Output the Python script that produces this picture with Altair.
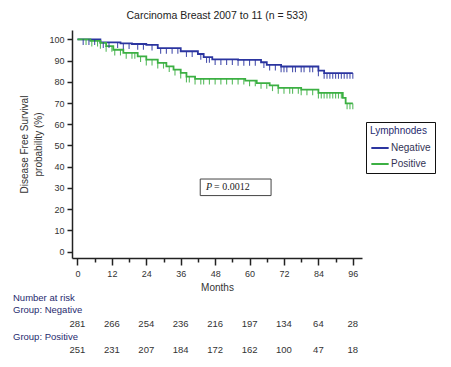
import altair as alt
import pandas as pd

# ---- data ----
groups = ["Negative", "Positive"]

neg_time = [0, 8, 15, 19, 24, 28, 36, 42, 44, 47, 56, 64, 66, 71, 84, 86, 96]
neg_surv = [100, 98.6, 98.1, 97.8, 97.4, 95.9, 94.4, 93.1, 91.6, 90.6, 90.3, 89.2, 88.0, 87.2, 85.3, 84.1, 84.1]

pos_time = [0, 4.5, 8, 10, 12.5, 16, 21, 24, 28, 31, 33.5, 36, 38, 41, 58.5, 62.5, 67, 70, 78, 84, 92.5, 93.5, 96]
pos_surv = [100, 99.3, 98.3, 96.8, 95.1, 93.6, 92.0, 90.4, 88.9, 87.3, 85.7, 84.2, 82.4, 81.4, 80.6, 79.4, 78.3, 77.1, 76.3, 74.8, 72.4, 69.8, 69.8]

neg_censor = [2, 4, 6, 9, 11, 14, 16, 18, 21, 23, 26, 29, 31, 33, 35, 38, 40, 43, 45, 46,
              48, 50, 52, 54, 56, 58, 60, 62, 65, 67, 69, 71, 72, 73, 75, 76, 78, 79, 81,
              82, 84, 86, 87, 88, 89, 90, 91, 92, 93, 94, 95, 96]
pos_censor = [3, 5, 7, 8, 10, 12, 13, 15, 17, 19, 20, 22, 24, 26, 28, 30, 32, 34, 36, 38,
              39, 41, 43, 44, 46, 48, 50, 52, 54, 56, 58, 60, 62, 64, 66, 68, 70, 72, 74,
              75, 77, 78, 80, 82, 84, 85, 86, 87, 88, 89, 90, 91, 92, 94, 95, 96]

risk_months = [0, 12, 24, 36, 48, 60, 72, 84, 96]
risk_neg = [281, 266, 254, 236, 216, 197, 134, 64, 28]
risk_pos = [251, 231, 207, 184, 172, 162, 100, 47, 18]

p_text = "= 0.0012"
p_box = {"x": 42.8, "x2": 67.5, "y": 26.4, "y2": 34.2}
p_pos = {"xp": 45.9, "xt": 47.6, "y": 30.4}

colors = ["#2b35a0", "#3cb043"]
FONT = "Liberation Sans"
NAVY = "#1f2a6e"

# ---- tables ----
def step_value(times, survs, t):
    v = survs[0]
    for tt, ss in zip(times, survs):
        if tt <= t:
            v = ss
    return v

curves = pd.DataFrame(
    [{"Months": t, "Surv": s, "Group": "Negative"} for t, s in zip(neg_time, neg_surv)]
    + [{"Months": t, "Surv": s, "Group": "Positive"} for t, s in zip(pos_time, pos_surv)]
)
censors = pd.DataFrame(
    [{"Months": t, "Surv": step_value(neg_time, neg_surv, t), "Group": "Negative"} for t in neg_censor]
    + [{"Months": t, "Surv": step_value(pos_time, pos_surv, t), "Group": "Positive"} for t in pos_censor]
)
risk = pd.DataFrame({"Months": risk_months, "Neg": risk_neg, "Pos": risk_pos})

xscale = alt.Scale(domain=[-1.9, 99.2], nice=False, zero=False)
yscale = alt.Scale(domain=[-3, 104.4], nice=False, zero=False)
color = alt.Color("Group:N", scale=alt.Scale(domain=groups, range=colors),
                  legend=alt.Legend(title="Lymphnodes", orient="none", legendX=294, legendY=92,
                                    symbolType="stroke", symbolSize=300, symbolStrokeWidth=2,
                                    strokeColor="#111", padding=4, titleFontWeight="normal",
                                    titleFontSize=10, titleColor=NAVY, labelFontSize=10,
                                    labelColor="#333355", titleFont=FONT, labelFont=FONT,
                                    rowPadding=1, titlePadding=2, labelOffset=1))

xaxis = alt.Axis(values=list(range(0, 97, 6)), tickCount=40, title="Months",
                 labelExpr="datum.value % 12 === 0 ? datum.label : ''",
                 tickSize={"condition": {"test": "datum.value % 12 === 0", "value": 7}, "value": 4},
                 grid=False, labelFontSize=9, labelPadding=4, titleFontSize=10,
                 titleFontWeight="normal", titlePadding=4, labelOverlap=False)
yaxis = alt.Axis(values=list(range(0, 101, 10)), tickCount=40,
                 title=["Disease Free Survival", "probability (%)"],
                 grid=False, tickSize=5, labelFontSize=9, labelPadding=3, titleFontSize=10,
                 titleFontWeight="normal", titlePadding=5, titleLineHeight=14, labelOverlap=False)

lines = alt.Chart(curves).mark_line(interpolate="step-after", strokeWidth=1.8).encode(
    x=alt.X("Months:Q", scale=xscale, axis=xaxis),
    y=alt.Y("Surv:Q", scale=yscale, axis=yaxis),
    color=color,
)
ticks = alt.Chart(censors).mark_point(shape="M0,0V1", size=130, filled=False, strokeWidth=1.1,
                                      opacity=0.85).encode(
    x="Months:Q", y="Surv:Q", color=alt.Color("Group:N", legend=None)
)

box = alt.Chart(pd.DataFrame([p_box])).mark_rect(fill="white", stroke="#444", strokeWidth=1).encode(
    x="x:Q", x2="x2", y="y:Q", y2="y2"
)
ptxt = alt.Chart(pd.DataFrame([p_pos])).mark_text(text="P", font="Liberation Serif", fontStyle="italic",
                                                   fontSize=10, color="#222").encode(x="xp:Q", y="y:Q")
ptxt2 = alt.Chart(pd.DataFrame([p_pos])).mark_text(text=p_text, font="Liberation Serif", fontSize=10,
                                                    align="left", color="#222").encode(x="xt:Q", y="y:Q")

risk1 = alt.Chart(risk).mark_text(fontSize=9.5, color="#333", font=FONT).encode(
    x="Months:Q", y=alt.value(294), text="Neg:Q")
risk2 = alt.Chart(risk).mark_text(fontSize=9.5, color="#333", font=FONT).encode(
    x="Months:Q", y=alt.value(320), text="Pos:Q")

lab_df = pd.DataFrame({"t": ["Number at risk", "Group: Negative", "Group: Positive"],
                       "py": [268, 280, 307]})
labels = alt.Chart(lab_df).mark_text(align="left", fontSize=9.5, color=NAVY, font=FONT).encode(
    x=alt.value(-59), y=alt.Y("py:Q", scale=None), text="t:N")

chart = alt.layer(lines, ticks, box, ptxt, ptxt2, risk1, risk2, labels).properties(
    width=290, height=228,
    title=alt.Title("Carcinoma Breast 2007 to 11 (n = 533)", fontSize=10.5, fontWeight="normal",
                    font=FONT, color="#222", offset=9, anchor="middle"),
    autosize=alt.AutoSizeParams(type="none"),
    padding={"left": 64, "top": 22, "right": 79, "bottom": 100},
).configure_axis(
    labelFont=FONT, titleFont=FONT, domainColor="#222", domainWidth=1.5, tickColor="#222",
    tickWidth=1.5, labelColor="#333", titleColor="#333",
).configure_view(stroke=None)

chart.save("out.html", embed_options={"renderer": "svg", "actions": False})
